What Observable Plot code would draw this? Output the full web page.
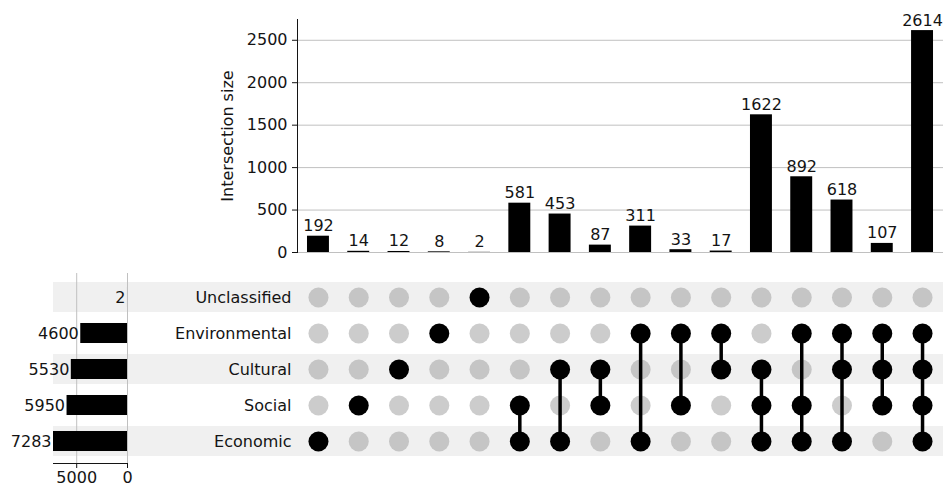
<!DOCTYPE html>
<html>
<head>
<meta charset="utf-8">
<script src="https://cdn.jsdelivr.net/npm/d3@7"></script>
<script src="https://cdn.jsdelivr.net/npm/@observablehq/plot@0.6"></script>
<style>
  body { margin: 0; background: #fff; }
  #chart { position: relative; width: 943px; height: 488px; font-family: "DejaVu Sans", sans-serif; }
  #chart svg { position: absolute; left: 0; top: 0; }
</style>
</head>
<body>
<div id="chart"></div>
<script>
// Sets, top to bottom in the matrix
const sets = ["Unclassified", "Environmental", "Cultural", "Social", "Economic"];
const setSizes = [2, 4600, 5530, 5950, 7283];

// Each intersection: the sets it contains, and its size
const combos = [
  ["Economic"],
  ["Social"],
  ["Cultural"],
  ["Environmental"],
  ["Unclassified"],
  ["Social", "Economic"],
  ["Cultural", "Economic"],
  ["Cultural", "Social"],
  ["Environmental", "Economic"],
  ["Environmental", "Social"],
  ["Environmental", "Cultural"],
  ["Cultural", "Social", "Economic"],
  ["Environmental", "Social", "Economic"],
  ["Environmental", "Cultural", "Economic"],
  ["Environmental", "Cultural", "Social"],
  ["Environmental", "Cultural", "Social", "Economic"]
];
const counts = [192, 14, 12, 8, 2, 581, 453, 87, 311, 33, 17, 1622, 892, 618, 107, 2614];

const yTicks = [0, 500, 1000, 1500, 2000, 2500];
const sizeTicks = [0, 5000];

// Derived tables
const cols = counts.map((_, i) => i);
const bars = counts.map((count, col) => ({col, count}));
const cells = combos.flatMap((members, col) =>
  sets.map(set => ({col, set, member: members.includes(set)})));
const links = combos
  .map((members, col) => {
    const idx = members.map(m => sets.indexOf(m));
    return {col, from: sets[d3.min(idx)], to: sets[d3.max(idx)], n: members.length};
  })
  .filter(d => d.n > 1);
const sizes = sets.map((set, i) => ({set, size: setSizes[i]}));

const W = 943, H = 488;
const INK = "#141414";
const FONT = {background: "transparent", fontFamily: "'DejaVu Sans', sans-serif", fontSize: "16px", color: INK};
const GRID = "#c0c0c0";
const plain = d => String(d);
const colScale = {type: "band", domain: cols, paddingInner: 0.455, paddingOuter: 0.248, round: false, axis: null};

// Alternating row shading, spanning the set-size panel and the matrix
const shadePlot = Plot.plot({
  width: W, height: H,
  marginLeft: 53, marginRight: 0, marginTop: 279, marginBottom: 29,
  style: FONT,
  y: {type: "band", domain: sets, range: [279, 459], paddingInner: 1 / 6, paddingOuter: 1 / 12, round: false, axis: null},
  marks: [
    Plot.cell(sets.filter((_, i) => i % 2 === 0), {y: d => d, fill: "#f0f0f0"})
  ]
});

// Set sizes (horizontal bars growing leftwards)
const setPlot = Plot.plot({
  width: 160, height: H,
  marginLeft: 53, marginRight: 33, marginTop: 273, marginBottom: 25,
  style: FONT,
  x: {domain: [0, d3.max(setSizes)], reverse: true},
  y: {type: "band", domain: sets, range: [279, 459], paddingInner: 0.444, paddingOuter: 0.222, round: false, axis: null},
  marks: [
    Plot.gridX(sizeTicks, {stroke: GRID, strokeOpacity: 1}),
    Plot.axisX(sizeTicks, {anchor: "bottom", tickSize: 5, tickPadding: 3, tickFormat: plain, label: null, stroke: INK}),
    Plot.frame({anchor: "bottom", stroke: INK}),
    Plot.barX(sizes, {x: "size", y: "set", fill: "#000"}),
    Plot.text(sizes, {x: "size", y: "set", text: d => String(d.size), textAnchor: "end", dx: -2, fill: INK})
  ]
});

// Membership matrix
const matrixPlot = Plot.plot({
  width: W, height: H,
  marginLeft: 297, marginRight: 0, marginTop: 279, marginBottom: 29,
  style: FONT,
  x: colScale,
  y: {type: "point", domain: sets, range: [297, 441], padding: 0, round: false, axis: null},
  marks: [
    Plot.axisY({anchor: "left", tickSize: 0, tickPadding: 6, label: null}),
    Plot.dot(cells.filter(d => !d.member), {x: "col", y: "set", r: 10, fill: "#9a9a9a", fillOpacity: 0.5}),
    Plot.ruleX(links, {x: "col", y1: "from", y2: "to", stroke: "#000", strokeWidth: 3.5}),
    Plot.dot(cells.filter(d => d.member), {x: "col", y: "set", r: 10, fill: "#000"})
  ]
});

// Intersection sizes
const barPlot = Plot.plot({
  width: W, height: H,
  marginLeft: 297, marginRight: 0, marginTop: 19, marginBottom: 236,
  style: FONT,
  x: colScale,
  y: {domain: [0, d3.max(counts) * 1.05]},
  marks: [
    Plot.gridY(yTicks, {stroke: GRID, strokeOpacity: 1}),
    Plot.axisY(yTicks, {anchor: "left", tickSize: 5, tickPadding: 5, tickFormat: plain, stroke: INK,
      label: "Intersection size", labelAnchor: "center", labelArrow: "none", labelOffset: 76}),
    Plot.frame({anchor: "left", stroke: INK}),
    Plot.barY(bars, {x: "col", y: "count", fill: "#000"}),
    Plot.text(bars, {x: "col", y: "count", text: d => String(d.count), lineAnchor: "bottom", dy: -5, fill: INK})
  ]
});

document.getElementById("chart").append(shadePlot, setPlot, matrixPlot, barPlot);
</script>
</body>
</html>
